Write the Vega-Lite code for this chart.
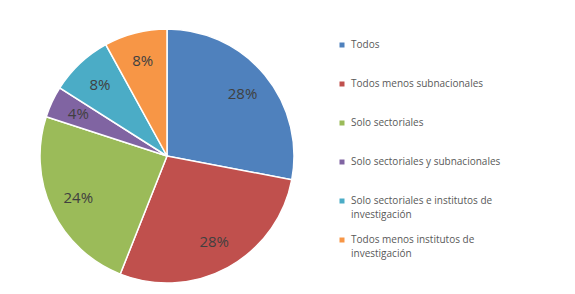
{
  "$schema": "https://vega.github.io/schema/vega-lite/v6.json",
  "autosize": "none",
  "width": 256,
  "height": 256,
  "padding": {"left": 39, "top": 28, "right": 280, "bottom": 10},
  "background": "white",
  "config": {"view": {"stroke": null}, "style": {"guide-label": {"lineHeight": 13.5}}},
  "data": {
    "values": [
      {"grupo": "Todos", "pct": 28, "orden": 1},
      {"grupo": "Todos menos subnacionales", "pct": 28, "orden": 2},
      {"grupo": "Solo sectoriales", "pct": 24, "orden": 3},
      {"grupo": "Solo sectoriales y subnacionales", "pct": 4, "orden": 4},
      {"grupo": "Solo sectoriales e institutos de investigación", "pct": 8, "orden": 5},
      {"grupo": "Todos menos institutos de investigación", "pct": 8, "orden": 6}
    ]
  },
  "encoding": {
    "theta": {"field": "pct", "type": "quantitative", "stack": true},
    "order": {"field": "orden", "type": "quantitative"}
  },
  "layer": [
    {
      "mark": {"type": "arc", "outerRadius": 127, "stroke": "white", "strokeWidth": 1.5},
      "encoding": {
        "color": {
          "field": "grupo",
          "type": "nominal",
          "sort": null,
          "scale": {
            "domain": ["Todos", "Todos menos subnacionales", "Solo sectoriales", "Solo sectoriales y subnacionales", "Solo sectoriales e institutos de investigación", "Todos menos institutos de investigación"],
            "range": ["#4F81BD", "#C0504D", "#9BBB59", "#8064A2", "#4BACC6", "#F79646"]
          },
          "legend": {
            "title": null,
            "orient": "none",
            "legendX": 298,
            "legendY": 12,
            "padding": 0,
            "symbolType": "square",
            "symbolSize": 25,
            "symbolStrokeWidth": 0,
            "labelFont": "Open Sans",
            "labelFontSize": 10,
            "labelColor": "#595959",
            "labelOffset": 4,
            "labelLimit": 300,
            "rowPadding": 15,
            "gridAlign": "all",
            "labelExpr": "datum.label == 'Solo sectoriales e institutos de investigación' ? ['Solo sectoriales e institutos de', 'investigación'] : datum.label == 'Todos menos institutos de investigación' ? ['Todos menos institutos de', 'investigación'] : datum.label",
            "encode": {"labels": {"update": {"lineHeight": {"value": 13.5}}}}
          }
        }
      }
    },
    {
      "mark": {"type": "text", "radius": 98, "font": "Open Sans", "fontSize": 15, "fill": "#404040"},
      "encoding": {
        "text": {"field": "label", "type": "nominal"}
      },
      "transform": [{"calculate": "datum.pct + '%'", "as": "label"}]
    }
  ]
}
